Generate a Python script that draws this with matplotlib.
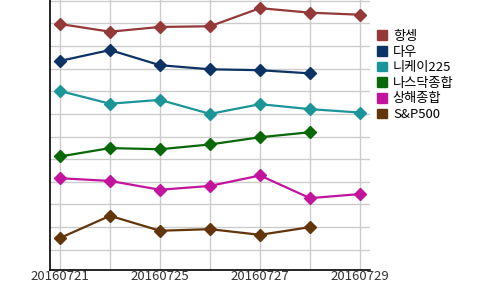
import numpy as np
import matplotlib
matplotlib.use("Agg")
import matplotlib.pyplot as plt
from matplotlib.patches import Patch

plt.rcParams['font.family'] = ['Noto Sans CJK KR', 'DejaVu Sans']

# 날짜 (x축 범주)
dates = ["20160721", "20160722", "20160725", "20160726", "20160727", "20160728", "20160729"]
nan = np.nan

# 지수별 값 (그림에서 읽은 값, 상대 눈금)
hangseng = [9.97, 9.63, 9.84, 9.87, 10.67, 10.47, 10.38]
dow = [8.34, 8.82, 8.15, 7.97, 7.93, 7.79, nan]
nikkei = [7.01, 6.45, 6.62, 6.00, 6.43, 6.21, 6.06]
nasdaq = [4.12, 4.49, 4.44, 4.65, 4.97, 5.19, nan]
shanghai = [3.16, 3.04, 2.65, 2.82, 3.28, 2.28, 2.46]
sp500 = [0.52, 1.50, 0.84, 0.91, 0.66, 1.00, nan]

names = ["항셍", "다우", "니케이225", "나스닥종합", "상해종합", "S&P500"]
series = [hangseng, dow, nikkei, nasdaq, shanghai, sp500]
colors = ["#943838", "#0c3363", "#1b9598", "#086808", "#c2149c", "#62360a"]

fig = plt.figure(figsize=(5, 2.9), dpi=100)
ax = fig.add_axes([0.1, 0.07, 0.64, 0.93])

x = np.arange(len(dates))
for vals, c in zip(series, colors):
    ax.plot(x, vals, color=c, lw=1.6, marker="D", ms=6, mec=c, mfc=c, zorder=3)

ax.set_xlim(-0.2, 6.2)
ax.set_ylim(-0.88, 11.03)
ax.set_yticks(np.arange(0, 12))
ax.set_yticklabels([])
ax.set_xticks(x)
ax.set_xticklabels([d if i % 2 == 0 else "" for i, d in enumerate(dates)],
                   fontsize=9.5, color="#333333")
ax.tick_params(axis="both", length=0, pad=0)
ax.grid(True, color="#cccccc", lw=1)
ax.set_axisbelow(True)
for s in ["top", "right"]:
    ax.spines[s].set_visible(False)
ax.spines["left"].set_linewidth(1.2)
ax.spines["bottom"].set_linewidth(1.2)

handles = [Patch(facecolor=c, edgecolor=c) for c in colors]
fig.legend(handles, names, loc="upper left", bbox_to_anchor=(0.754, 0.897),
           frameon=False, fontsize=9.5, handlelength=0.75, handleheight=0.75,
           handletextpad=0.45, labelspacing=0.2, borderpad=0, borderaxespad=0)

fig.savefig("out.png", dpi=100)
